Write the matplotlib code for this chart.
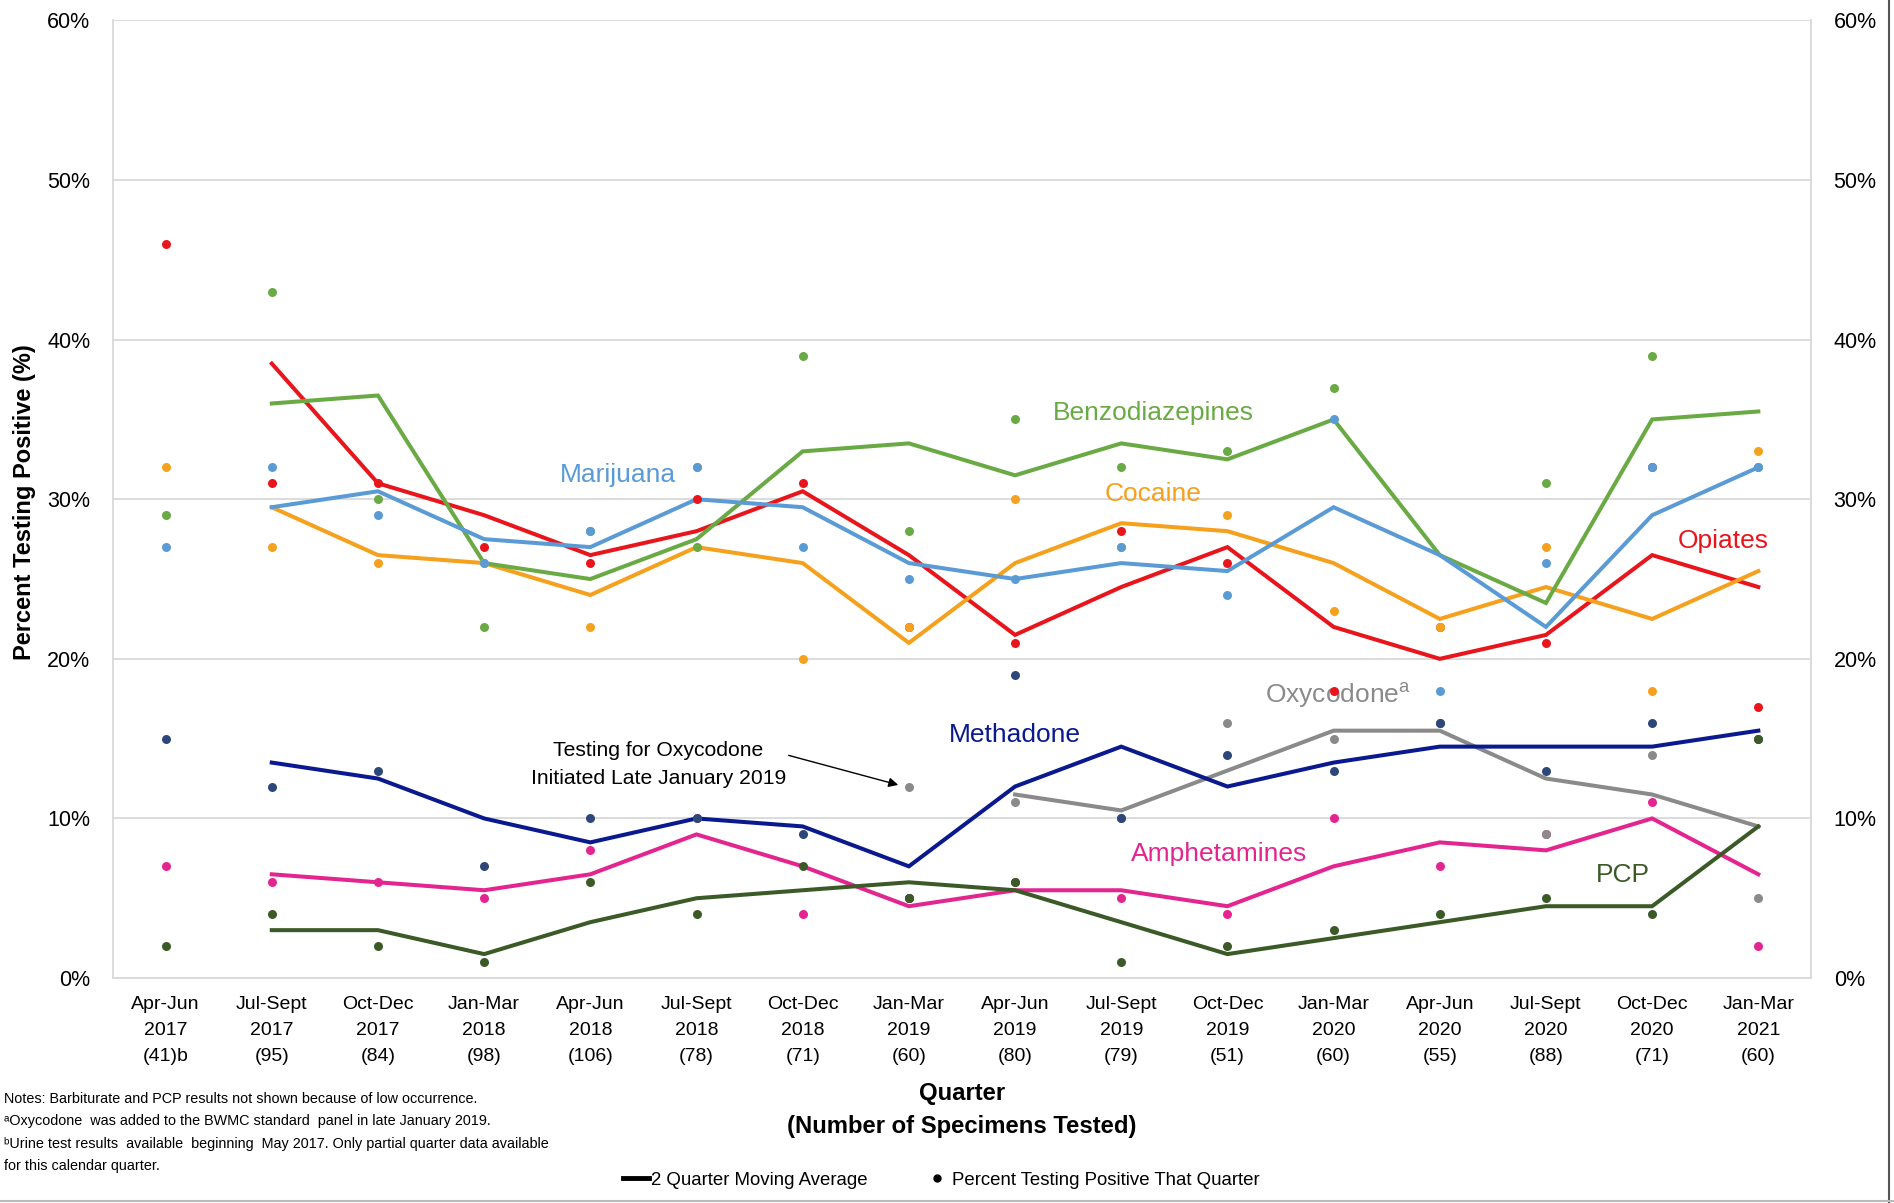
import numpy as np
import matplotlib
matplotlib.use('Agg')
import matplotlib.pyplot as plt
import matplotlib.ticker as mticker
from matplotlib.lines import Line2D

plt.rcParams['font.family'] = ['Liberation Sans', 'DejaVu Sans']

# 季度标签
quarters = ['Apr-Jun\n2017\n(41)b', 'Jul-Sept\n2017\n(95)', 'Oct-Dec\n2017\n(84)',
            'Jan-Mar\n2018\n(98)', 'Apr-Jun\n2018\n(106)', 'Jul-Sept\n2018\n(78)',
            'Oct-Dec\n2018\n(71)', 'Jan-Mar\n2019\n(60)', 'Apr-Jun\n2019\n(80)',
            'Jul-Sept\n2019\n(79)', 'Oct-Dec\n2019\n(51)', 'Jan-Mar\n2020\n(60)',
            'Apr-Jun\n2020\n(55)', 'Jul-Sept\n2020\n(88)', 'Oct-Dec\n2020\n(71)',
            'Jan-Mar\n2021\n(60)']

# percent positive that quarter (dots)
opiates_pct = [46, 31, 31, 27, 26, 30, 31, 22, 21, 28, 26, 18, 22, 21, 32, 17]
cocaine_pct = [32, 27, 26, 26, 22, 32, 20, 22, 30, 27, 29, 23, 22, 27, 18, 33]
benzo_pct = [29, 43, 30, 22, 28, 27, 39, 28, 35, 32, 33, 37, 16, 31, 39, 32]
marijuana_pct = [27, 32, 29, 26, 28, 32, 27, 25, 25, 27, 24, 35, 18, 26, 32, 32]
amph_pct = [7, 6, 6, 5, 8, 10, 4, 5, 6, 5, 4, 10, 7, 9, 11, 2]
oxy_pct = [12, 11, 10, 16, 15, 16, 9, 14, 5]          # from Jan-Mar 2019
methadone_pct = [15, 12, 13, 7, 10, 10, 9, 5, 19, 10, 14, 13, 16, 13, 16, 15]
pcp_pct = [2, 4, 2, 1, 6, 4, 7, 5, 6, 1, 2, 3, 4, 5, 4, 15]

# 2 quarter moving average (lines), from Jul-Sept 2017
opiates_avg = [38.5, 31, 29, 26.5, 28, 30.5, 26.5, 21.5, 24.5, 27, 22, 20, 21.5, 26.5, 24.5]
cocaine_avg = [29.5, 26.5, 26, 24, 27, 26, 21, 26, 28.5, 28, 26, 22.5, 24.5, 22.5, 25.5]
benzo_avg = [36, 36.5, 26, 25, 27.5, 33, 33.5, 31.5, 33.5, 32.5, 35, 26.5, 23.5, 35, 35.5]
marijuana_avg = [29.5, 30.5, 27.5, 27, 30, 29.5, 26, 25, 26, 25.5, 29.5, 26.5, 22, 29, 32]
amph_avg = [6.5, 6, 5.5, 6.5, 9, 7, 4.5, 5.5, 5.5, 4.5, 7, 8.5, 8, 10, 6.5]
oxy_avg = [11.5, 10.5, 13, 15.5, 15.5, 12.5, 11.5, 9.5]  # from Apr-Jun 2019
methadone_avg = [13.5, 12.5, 10, 8.5, 10, 9.5, 7, 12, 14.5, 12, 13.5, 14.5, 14.5, 14.5, 15.5]
pcp_avg = [3, 3, 1.5, 3.5, 5, 5.5, 6, 5.5, 3.5, 1.5, 2.5, 3.5, 4.5, 4.5, 9.5]

x = np.arange(len(quarters))

fig = plt.figure(figsize=(18.94, 12.03), dpi=100)
ax = fig.add_axes([0.0594, 0.187, 0.897, 0.796])

# (pct, avg, line color, dot color, first dot index, first line index)
series = [
    (opiates_pct, opiates_avg, '#E8161C', '#E8161C', 0, 1),
    (cocaine_pct, cocaine_avg, '#F5A11D', '#F5A11D', 0, 1),
    (benzo_pct, benzo_avg, '#6AAA45', '#6AAA45', 0, 1),
    (marijuana_pct, marijuana_avg, '#5B9BD5', '#5B9BD5', 0, 1),
    (amph_pct, amph_avg, '#E3258F', '#E3258F', 0, 1),
    (oxy_pct, oxy_avg, '#8A8A8A', '#8A8A8A', 7, 8),
    (methadone_pct, methadone_avg, '#0A1A8E', '#2C4778', 0, 1),
    (pcp_pct, pcp_avg, '#3B5A27', '#3B5A27', 0, 1),
]

for i, (pct, avg, lc, dc, d0, l0) in enumerate(series):
    ax.plot(x[l0:], avg, color=lc, lw=2.9, zorder=3 + i * 0.01, solid_joinstyle='miter')
for i, (pct, avg, lc, dc, d0, l0) in enumerate(series):
    ax.scatter(x[d0:], pct, s=42, color=dc, zorder=5 + i * 0.01, linewidths=0)

ax.set_xlim(-0.5, len(quarters) - 0.5)
ax.set_ylim(0, 60)
ax.yaxis.set_major_locator(mticker.MultipleLocator(10))
ax.yaxis.set_major_formatter(mticker.PercentFormatter(decimals=0))
ax.grid(axis='y', color='#D9D9D9', lw=1.3, zorder=0)
ax.set_axisbelow(True)
for s in ax.spines.values():
    s.set_color('#D9D9D9')
    s.set_linewidth(1.3)
ax.spines['top'].set_visible(False)

ax.set_xticks(x)
ax.set_xticklabels(quarters, fontsize=14, linespacing=1.7)
ax.tick_params(axis='x', length=0, pad=13)
ax.tick_params(axis='y', length=0, labelsize=15.5, pad=16, labelright=True)

fig.text(0.0127, 0.583, 'Percent Testing Positive (%)', rotation=90, ha='center', va='center',
         fontsize=17, fontweight='bold')
fig.text(0.508, 0.0773, 'Quarter\n(Number of Specimens Tested)', ha='center', va='center',
         fontsize=17.2, fontweight='bold', linespacing=1.55)

# series labels
lab = dict(ha='center', va='center', fontsize=19)
ax.text(9.3, 35.4, 'Benzodiazepines', color='#6AAA45', **lab)
ax.text(4.26, 31.5, 'Marijuana', color='#5B9BD5', **lab)
ax.text(9.3, 30.3, 'Cocaine', color='#F5A11D', **lab)
ax.text(14.67, 27.4, 'Opiates', color='#E8161C', **lab)
ax.text(11.04, 17.7, 'Oxycodone$^{\\mathregular{a}}$', color='#8A8A8A', **lab)
ax.text(8.0, 15.2, 'Methadone', color='#0A1A8E', **lab)
ax.text(9.92, 7.8, 'Amphetamines', color='#E3258F', **lab)
ax.text(13.72, 6.45, 'PCP', color='#3B5A27', **lab)

ax.annotate('Testing for Oxycodone\nInitiated Late January 2019', xy=(6.9, 12.1),
            xytext=(4.64, 13.35), ha='center', va='center', fontsize=15.2, linespacing=1.6,
            arrowprops=dict(arrowstyle='-|>', color='black', lw=1.0,
                            shrinkA=0, shrinkB=0, mutation_scale=14,
                            relpos=(1.0, 0.72)))

notes = ('Notes: Barbiturate and PCP results not shown because of low occurrence.\n'
         'ᵃOxycodone  was added to the BWMC standard  panel in late January 2019.\n'
         'ᵇUrine test results  available  beginning  May 2017. Only partial quarter data available\n'
         'for this calendar quarter.')
fig.text(0.002, 0.0585, notes, ha='left', va='center', fontsize=10.4, linespacing=1.75)

handles = [Line2D([0], [0], color='black', lw=3.5),
           Line2D([0], [0], color='black', lw=0, marker='o', markersize=5)]
fig.legend(handles, ['2 Quarter Moving Average', 'Percent Testing Positive That Quarter'],
           loc='center', bbox_to_anchor=(0.497, 0.019), ncol=2, frameon=False,
           fontsize=13.4, handlelength=1.4, handletextpad=0.1, columnspacing=3.0)

# border of the picture
fig.add_artist(Line2D([0.9975, 0.9975], [0, 1], color='#555555', lw=1.5))
fig.add_artist(Line2D([0, 1], [0.002, 0.002], color='#BBBBBB', lw=1.5))

fig.savefig('out.png', dpi=100)
